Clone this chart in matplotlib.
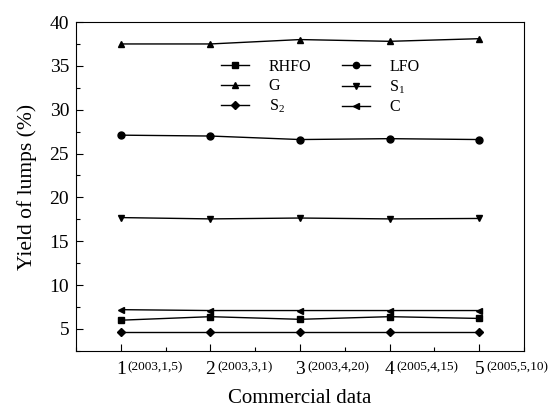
import matplotlib
matplotlib.use("Agg")
import matplotlib.pyplot as plt
from matplotlib.ticker import MultipleLocator

plt.rcParams['font.family'] = ['Liberation Serif', 'DejaVu Serif']
plt.rcParams['mathtext.fontset'] = 'custom'
plt.rcParams['mathtext.rm'] = 'Liberation Serif'
plt.rcParams['mathtext.it'] = 'Liberation Serif'
plt.rcParams['mathtext.default'] = 'regular'

x = [1, 2, 3, 4, 5]
tick_labels = ['1', '2', '3', '4', '5']
dates = ['(2003,1,5)', '(2003,3,1)', '(2003,4,20)', '(2005,4,15)', '(2005,5,10)']

rhfo = [6.0, 6.4, 6.1, 6.4, 6.2]
lfo = [27.1, 27.0, 26.6, 26.7, 26.6]
g = [37.5, 37.5, 38.0, 37.8, 38.1]
s1 = [17.7, 17.55, 17.65, 17.55, 17.6]
s2 = [4.6, 4.6, 4.6, 4.6, 4.6]
c = [7.2, 7.1, 7.1, 7.1, 7.1]

series = [
    ('RHFO', rhfo, 's'),
    ('LFO', lfo, 'o'),
    ('G', g, '^'),
    ('S$_1$', s1, 'v'),
    ('S$_2$', s2, 'D'),
    ('C', c, '<'),
]

fig = plt.figure(figsize=(5.51, 4.08), dpi=100)
ax = fig.add_axes([0.138, 0.140, 0.813, 0.806])

lines = {}
for label, vals, m in series:
    ms = 4.5 if m == 'D' else 5
    ln, = ax.plot(x, vals, color='black', linewidth=1.0, marker=m, markersize=ms, label=label)
    lines[label] = ln

ax.set_xlim(0.5, 5.5)
ax.set_ylim(2.5, 40)
ax.set_xticks(x)
ax.set_xticklabels(tick_labels)
ax.xaxis.set_minor_locator(MultipleLocator(0.5))
ax.set_yticks([5, 10, 15, 20, 25, 30, 35, 40])
ax.yaxis.set_minor_locator(MultipleLocator(2.5))
ax.tick_params(which='both', direction='in', top=False, right=False, labelsize=14)
ax.tick_params(which='major', length=5, width=0.8)
ax.tick_params(which='minor', length=3, width=0.8)
ax.tick_params(axis='x', pad=7)
ax.tick_params(axis='y', pad=5)

for xi, d in zip(x, dates):
    ax.annotate(d, xy=(xi, 0), xycoords=('data', 'axes fraction'),
                xytext=(5, -7.5), textcoords='offset points',
                fontsize=9.5, ha='left', va='top')

ax.set_xlabel('Commercial data', fontsize=15, labelpad=8)
ax.set_ylabel('Yield of lumps (%)', fontsize=15.5, labelpad=9)

order = ['RHFO', 'G', 'S$_2$', 'LFO', 'S$_1$', 'C']
ax.legend([lines[k] for k in order], order, ncol=2, loc='upper left',
          bbox_to_anchor=(0.305, 0.912), frameon=False,
          fontsize=11.5, handlelength=1.8, handletextpad=1.2, columnspacing=1.9,
          labelspacing=0.22, borderpad=0, numpoints=1, markerscale=0.9)

fig.savefig('out.png', dpi=100)
